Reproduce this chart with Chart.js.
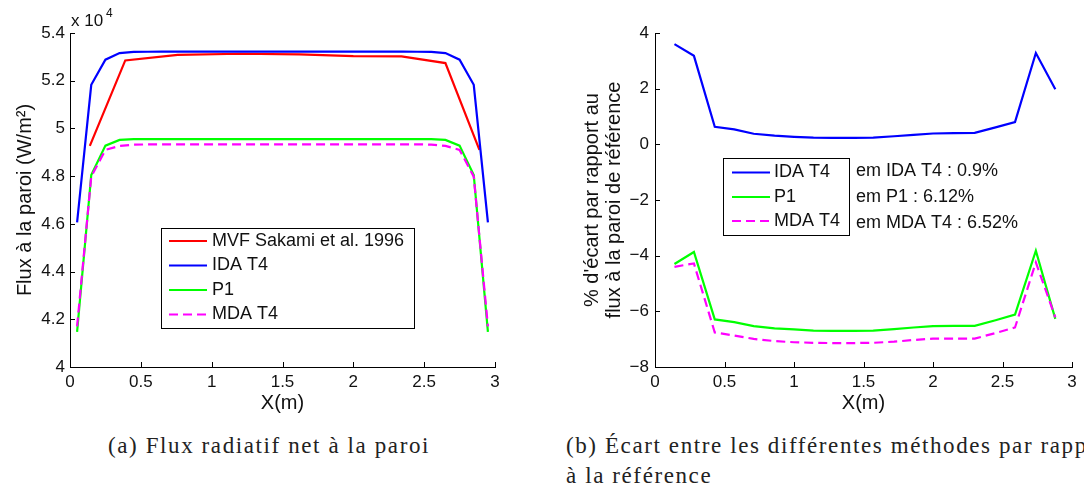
<!DOCTYPE html>
<html lang="fr">
<head>
  <meta charset="UTF-8" />
  <title>Flux radiatif net à la paroi</title>
  <script src="https://cdn.jsdelivr.net/npm/chart.js"></script>
  <style>
    body { margin: 0; width: 1084px; height: 485px; overflow: hidden; background: #fff; position: relative; }
    .graf { position: absolute; top: 0; height: 420px; }
    #boite-a { left: 0; width: 540px; }
    #boite-b { left: 542px; width: 542px; }
    .legende { position: absolute; font-family: "Liberation Serif", serif; font-size: 23px; letter-spacing: 1.6px;
      white-space: nowrap; color: #222; line-height: 30px; }
  </style>
</head>
<body>
  <div class="graf" id="boite-a"><canvas id="grafFlux"></canvas></div>
  <div class="graf" id="boite-b"><canvas id="grafEcart"></canvas></div>

  <div class="legende" style="left:108px; top:431px;">(a) Flux radiatif net à la paroi</div>
  <div class="legende" style="left:566px; top:431px;">(b) Écart entre les différentes méthodes par rapport<br>à la référence</div>

  <script>
    // maillage fin (IDA, P1, MDA) - flux en W/m2
    const xFin = [0.05, 0.15, 0.25, 0.35, 0.45, 0.55, 0.65, 0.75, 0.85, 0.95, 1.05, 1.15, 1.25, 1.35, 1.45,
      1.55, 1.65, 1.75, 1.85, 1.95, 2.05, 2.15, 2.25, 2.35, 2.45, 2.55, 2.65, 2.75, 2.85, 2.95];
    const fluxIDA = [46060, 51830, 52880, 53160, 53210, 53215, 53220, 53220, 53220, 53220, 53220, 53220, 53220, 53220, 53220,
      53220, 53220, 53220, 53220, 53220, 53220, 53220, 53220, 53220, 53215, 53210, 53160, 52880, 51830, 46060];
    const fluxP1 = [41470, 48050, 49280, 49520, 49550, 49555, 49555, 49555, 49555, 49555, 49555, 49555, 49555, 49555, 49555,
      49555, 49555, 49555, 49555, 49555, 49555, 49555, 49555, 49555, 49555, 49550, 49520, 49280, 48050, 41470];
    const fluxMDA = [41700, 47980, 49100, 49270, 49320, 49330, 49335, 49335, 49335, 49335, 49335, 49335, 49335, 49335, 49335,
      49335, 49335, 49335, 49335, 49335, 49335, 49335, 49335, 49335, 49335, 49320, 49270, 49100, 47980, 41700];

    // reference Sakami et al. 1996
    const xSakami = [0.14, 0.39, 0.76, 1.2, 1.62, 2.0, 2.34, 2.65, 2.89];
    const fluxSakami = [49270, 52850, 53080, 53130, 53100, 53030, 53020, 52740, 49100];

    // ecart en % par rapport a la reference
    const xEcart = [0.14, 0.28, 0.43, 0.57, 0.71, 0.86, 1.0, 1.14, 1.28, 1.43, 1.57, 1.72, 1.86, 2.0, 2.15,
      2.3, 2.45, 2.59, 2.74, 2.88];
    const ecartIDA = [3.60, 3.18, 0.63, 0.54, 0.38, 0.31, 0.27, 0.24, 0.23, 0.23, 0.24, 0.29, 0.34, 0.39, 0.40,
      0.41, 0.61, 0.80, 3.28, 1.98];
    const ecartP1 = [-4.30, -3.87, -6.29, -6.39, -6.53, -6.61, -6.65, -6.69, -6.70, -6.70, -6.69, -6.64, -6.58, -6.53, -6.52,
      -6.52, -6.32, -6.12, -3.82, -6.27];
    const ecartMDA = [-4.40, -4.28, -6.76, -6.87, -6.99, -7.07, -7.11, -7.13, -7.14, -7.14, -7.13, -7.09, -7.03, -6.98, -6.98,
      -6.98, -6.78, -6.58, -4.24, -6.22];

    const notesEcart = ['em IDA T4 : 0.9%', 'em P1 : 6.12%', 'em MDA T4 : 6.52%'];

    function points(xs, ys) {
      const res = [];
      for (let i = 0; i < xs.length; i++) {
        res.push({ x: xs[i], y: ys[i] });
      }
      return res;
    }

    Chart.defaults.font.family = "'Liberation Sans', Arial, sans-serif";
    Chart.defaults.color = '#111';
    Chart.defaults.animation = false;

    // petits traits de graduation vers l'interieur (style matlab)
    const ticksInternes = {
      id: 'ticksInternes',
      afterDraw(chart) {
        const ctx = chart.ctx;
        const area = chart.chartArea;
        const sx = chart.scales.x;
        const sy = chart.scales.y;
        ctx.save();
        ctx.strokeStyle = '#000';
        ctx.lineWidth = 1;
        ctx.beginPath();
        sx.ticks.forEach(t => {
          const p = Math.round(sx.getPixelForValue(t.value)) + 0.5;
          ctx.moveTo(p, area.bottom);
          ctx.lineTo(p, area.bottom - 5);
        });
        sy.ticks.forEach(t => {
          const p = Math.round(sy.getPixelForValue(t.value)) + 0.5;
          ctx.moveTo(area.left, p);
          ctx.lineTo(area.left + 5, p);
        });
        ctx.stroke();
        ctx.restore();
      }
    };

    // legende encadree dans la zone du graphique
    const legendeBoite = {
      id: 'legendeBoite',
      afterDraw(chart, args, opts) {
        const ctx = chart.ctx;
        const b = opts.box;
        ctx.save();
        ctx.fillStyle = '#fff';
        ctx.fillRect(b[0], b[1], b[2] - b[0], b[3] - b[1]);
        ctx.strokeStyle = '#000';
        ctx.lineWidth = 1;
        ctx.strokeRect(b[0] + 0.5, b[1] + 0.5, b[2] - b[0], b[3] - b[1]);
        ctx.font = "18px 'Liberation Sans', Arial, sans-serif";
        ctx.textBaseline = 'middle';
        ctx.textAlign = 'left';
        const ds = chart.data.datasets;
        for (let i = 0; i < ds.length; i++) {
          const y = opts.rows[i];
          ctx.strokeStyle = ds[i].borderColor;
          ctx.lineWidth = 2.2;
          ctx.setLineDash(ds[i].borderDash || []);
          ctx.beginPath();
          ctx.moveTo(opts.lineX[0], y);
          ctx.lineTo(opts.lineX[1], y);
          ctx.stroke();
          ctx.setLineDash([]);
          ctx.fillStyle = '#111';
          ctx.fillText(ds[i].label, opts.textX, y);
        }
        if (opts.notes) {
          for (let i = 0; i < opts.notes.length; i++) {
            ctx.fillText(opts.notes[i], opts.notesX, opts.notesRows[i]);
          }
        }
        ctx.restore();
      }
    };

    // facteur "x 10^4" en haut de l'axe
    const exposant = {
      id: 'exposant',
      afterDraw(chart) {
        const ctx = chart.ctx;
        ctx.save();
        ctx.fillStyle = '#111';
        ctx.textBaseline = 'middle';
        ctx.font = "17px 'Liberation Sans', Arial, sans-serif";
        ctx.fillText('x 10', 71, 21);
        ctx.font = "12px 'Liberation Sans', Arial, sans-serif";
        ctx.fillText('4', 106, 14);
        ctx.restore();
      }
    };

    const policeTicks = { size: 17 };
    const policeTitre = { size: 20, lineHeight: 1.1 };

    function moins(v) {
      return v < 0 ? '\u2212' + Math.abs(v) : String(v);
    }

    new Chart(document.getElementById('grafFlux'), {
      type: 'line',
      data: {
        datasets: [
          { label: 'MVF Sakami et al. 1996', data: points(xSakami, fluxSakami), borderColor: '#ff0000', order: 4 },
          { label: 'IDA T4', data: points(xFin, fluxIDA), borderColor: '#0000ff', order: 3 },
          { label: 'P1', data: points(xFin, fluxP1), borderColor: '#00ff00', order: 2 },
          { label: 'MDA T4', data: points(xFin, fluxMDA), borderColor: '#ff00ff', borderDash: [9, 5], order: 1 }
        ]
      },
      options: {
        responsive: true,
        maintainAspectRatio: false,
        datasets: { line: { borderWidth: 2.2, pointRadius: 0, tension: 0, fill: false } },
        layout: { padding: { left: 0, right: 45, top: 33, bottom: 0 } },
        scales: {
          x: {
            type: 'linear', min: 0, max: 3,
            ticks: { stepSize: 0.5, font: policeTicks, padding: 5, maxRotation: 0, callback: v => String(v) },
            grid: { display: false, drawTicks: false },
            border: { color: '#000', width: 1 },
            title: { display: true, text: 'X(m)', font: policeTitre, padding: { top: 0, bottom: 6 } },
            afterFit: s => { s.height = 53; }
          },
          y: {
            type: 'linear', min: 40000, max: 54000,
            ticks: {
              stepSize: 2000, font: policeTicks, padding: 5,
              callback: v => String(+(v / 10000).toFixed(1))
            },
            grid: { display: false, drawTicks: false },
            border: { color: '#000', width: 1 },
            title: { display: true, text: 'Flux à la paroi (W/m²)', font: policeTitre, padding: { top: 14, bottom: 0 } },
            afterFit: s => { s.width = 70; }
          }
        },
        plugins: {
          legend: { display: false },
          tooltip: { enabled: false },
          legendeBoite: {
            box: [161, 228, 414, 328],
            lineX: [169, 207],
            textX: 212,
            rows: [241, 265.5, 290, 314.5]
          }
        }
      },
      plugins: [ticksInternes, legendeBoite, exposant]
    });

    new Chart(document.getElementById('grafEcart'), {
      type: 'line',
      data: {
        datasets: [
          { label: 'IDA T4', data: points(xEcart, ecartIDA), borderColor: '#0000ff', order: 3 },
          { label: 'P1', data: points(xEcart, ecartP1), borderColor: '#00ff00', order: 2 },
          { label: 'MDA T4', data: points(xEcart, ecartMDA), borderColor: '#ff00ff', borderDash: [9, 5], order: 1 }
        ]
      },
      options: {
        responsive: true,
        maintainAspectRatio: false,
        datasets: { line: { borderWidth: 2.2, pointRadius: 0, tension: 0, fill: false } },
        layout: { padding: { left: 0, right: 12, top: 33, bottom: 0 } },
        scales: {
          x: {
            type: 'linear', min: 0, max: 3,
            ticks: { stepSize: 0.5, font: policeTicks, padding: 5, maxRotation: 0, callback: v => String(v) },
            grid: { display: false, drawTicks: false },
            border: { color: '#000', width: 1 },
            title: { display: true, text: 'X(m)', font: policeTitre, padding: { top: 0, bottom: 6 } },
            afterFit: s => { s.height = 53; }
          },
          y: {
            type: 'linear', min: -8, max: 4,
            ticks: { stepSize: 2, font: policeTicks, padding: 6, callback: v => moins(v) },
            grid: { display: false, drawTicks: false },
            border: { color: '#000', width: 1 },
            title: {
              display: true,
              text: ["% d'écart par rapport au", 'flux à la paroi de référence'],
              font: policeTitre, padding: { top: 39, bottom: 0 }
            },
            afterFit: s => { s.width = 113; }
          }
        },
        plugins: {
          legend: { display: false },
          tooltip: { enabled: false },
          legendeBoite: {
            box: [181, 158, 307, 235],
            lineX: [190, 228],
            textX: 232,
            rows: [172.5, 197, 221],
            notes: notesEcart,
            notesX: 314,
            notesRows: [171, 197.5, 223]
          }
        }
      },
      plugins: [ticksInternes, legendeBoite]
    });
  </script>
</body>
</html>
